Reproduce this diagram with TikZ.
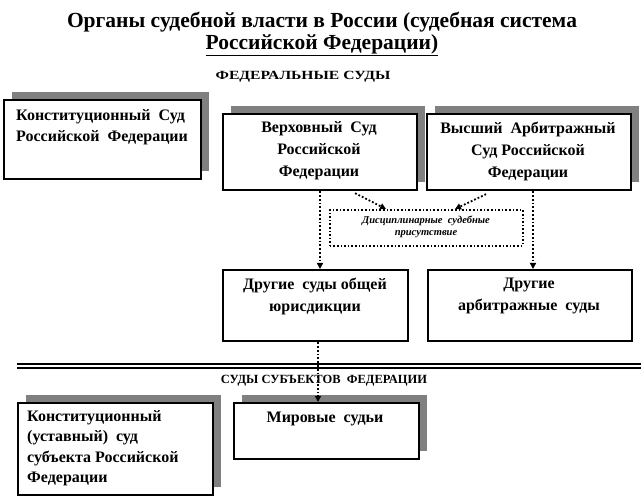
\documentclass[tikz,border=0pt]{standalone}
\usepackage{fontspec}
\setmainfont{Liberation Serif}
\usetikzlibrary{arrows.meta,shadows,calc}
\definecolor{shadowgray}{RGB}{128,128,128}
\tikzset{
  plainbox/.style={draw=black, line width=2.2pt, fill=white, anchor=north west, inner sep=0pt},
  box/.style={plainbox, general shadow={fill=shadowgray, shadow xshift=8pt, shadow yshift=8pt}},
  dotbox/.style={draw=black, line width=1.6pt, dotted, fill=white, anchor=north west, inner sep=0pt},
  txt/.style={font=\bfseries\fontsize{16}{22}\selectfont, align=center, inner sep=0pt},
  ltxt/.style={font=\bfseries\fontsize{16}{20.5}\selectfont, align=left, inner sep=0pt, anchor=west},
  head/.style={font=\bfseries\fontsize{12.5}{14}\selectfont, inner sep=0pt},
  dotarrow/.style={line width=1.8pt, dotted, -{Triangle[length=6pt,width=6pt]}},
}
\begin{document}
\begin{tikzpicture}[x=1pt,y=-1pt]
\useasboundingbox (0,0) rectangle (641,500);
% title
\node[font=\bfseries\fontsize{21.5}{22.5}\selectfont, align=center, inner sep=0pt] (title) at (322,34)
  {Органы судебной власти в России (судебная система\\\underline{Российской Федерации)}};
\node[head] (fed) at (303,77) {\scalebox{1.25}[1]{ФЕДЕРАЛЬНЫЕ СУДЫ}};
% boxes
\node[box, minimum width=197pt, minimum height=79pt] (b1) at (3,99) {};
\node[box, minimum width=194pt, minimum height=76pt] (b2) at (222,113) {};
\node[box, minimum width=204pt, minimum height=76pt] (b3) at (426,113) {};
\node[dotbox, minimum width=193pt, minimum height=36pt] (db) at (329,209) {};
\node[plainbox, minimum width=185pt, minimum height=71pt] (b4) at (222,269) {};
\node[plainbox, minimum width=204pt, minimum height=71pt] (b5) at (427,269) {};
\node[box, minimum width=195pt, minimum height=92pt] (b6) at (17,402) {};
\node[box, minimum width=185pt, minimum height=56pt] (b7) at (233,402) {};
% texts
\node[ltxt] (t1) at (16,127) {Конституционный\ \ Суд\\Российской\ \ Федерации};
\node[txt] (t2) at (319,151) {Верховный\ \ Суд\\Российской\\Федерации};
\node[txt] (t3) at (528,151) {Высший\ \ Арбитражный\\Суд Российской\\Федерации};
\node[font=\bfseries\itshape\fontsize{10.5}{11.5}\selectfont, align=center, inner sep=0pt] (tdb) at (426,227)
  {Дисциплинарные\ \ судебные\\присутствие};
\node[txt] (t4) at (315,296) {Другие\ \ суды общей\\юрисдикции};
\node[txt] (t5) at (529,296) {Другие\\арбитражные\ \ суды};
\node[ltxt] (t6) at (27,448) {Конституционный\\(уставный)\ \ суд\\субъекта Российской\\Федерации};
\node[txt] (t7) at (325,419) {Мировые\ \ судьи};
% separator
\coordinate (sepL1) at (17,363.7);
\coordinate (sepR1) at (641,363.7);
\coordinate (sepL2) at (17,367.9);
\coordinate (sepR2) at (641,367.9);
\draw[line width=2pt] (sepL1) -- (sepR1);
\draw[line width=2pt] (sepL2) -- (sepR2);
\node[head] (subj) at (324,381) {СУДЫ СУБЪЕКТОВ\ \ ФЕДЕРАЦИИ};
% connectors
\draw[dotarrow] (b2.south -| 320,0) -- (b4.north -| 320,0);
\draw[dotarrow] (b3.south -| 533,0) -- (b5.north -| 533,0);
\draw[dotarrow] (b4.south -| 318,0) -- (b7.north -| 318,0);
\draw[dotarrow] ($(b2.south)+(35,2)$) -- ($(db.north west)+(57,0)$);
\draw[dotarrow] ($(b3.south)+(-43,3)$) -- ($(db.north west)+(126,0)$);
\end{tikzpicture}
\end{document}
